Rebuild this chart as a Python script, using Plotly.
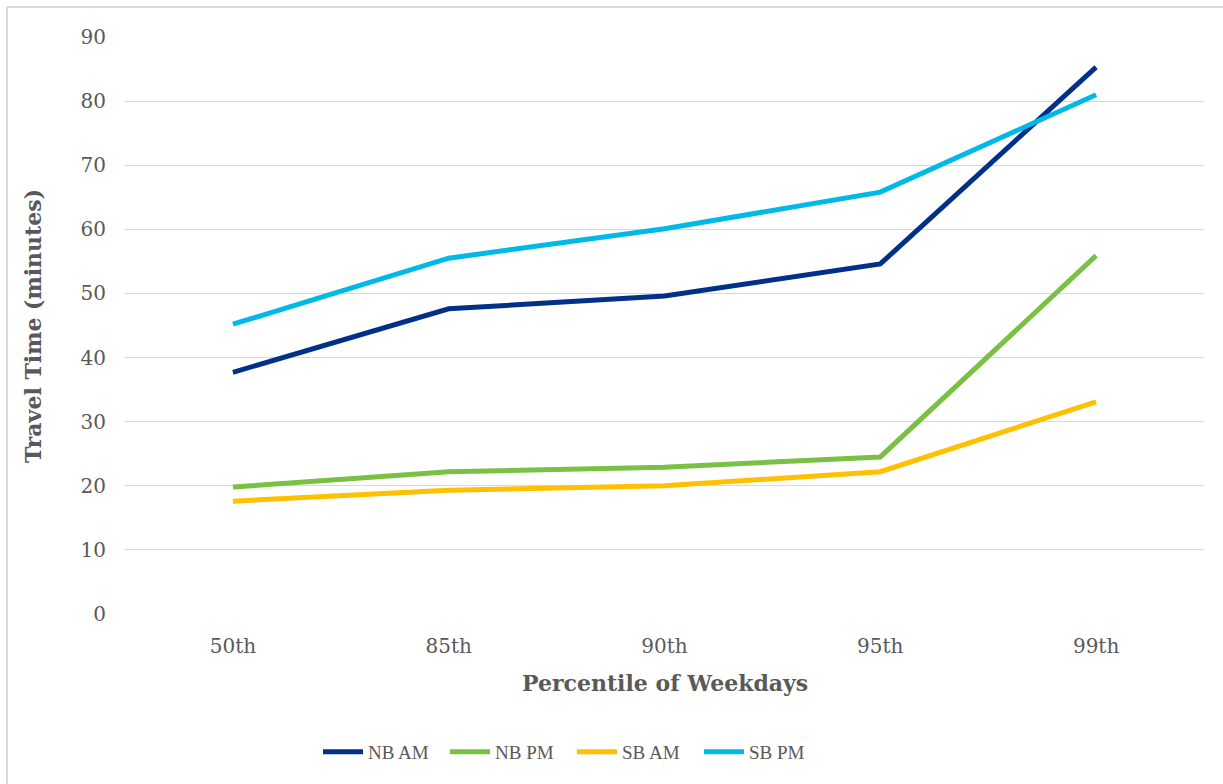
import plotly.graph_objects as go

# Travel time by weekday percentile, per direction and peak period
percentiles = ["50th", "85th", "90th", "95th", "99th"]
nb_am = [37.7, 47.6, 49.6, 54.6, 85.3]
nb_pm = [19.8, 22.2, 22.9, 24.5, 55.9]
sb_am = [17.6, 19.3, 20.0, 22.2, 33.1]
sb_pm = [45.2, 55.5, 60.1, 65.8, 81.0]

series = [
    ("NB AM", nb_am, "#003087"),
    ("NB PM", nb_pm, "#7AC143"),
    ("SB AM", sb_am, "#FFC000"),
    ("SB PM", sb_pm, "#00B9E8"),
]

W, H = 1223, 784
L, R, T, B = 125, 19, 37, 170
FONT = "DejaVu Serif"
LEG_FONT = "Liberation Serif"
GREY = "#595959"

fig = go.Figure()
for name, vals, color in series:
    fig.add_trace(go.Scatter(
        x=percentiles, y=vals, name=name, mode="lines",
        line=dict(color=color, width=5),
    ))

def px_x(p):
    return (p - L) / (W - L - R)

def px_y(p):
    return (H - B - p) / (H - T - B)

fig.update_layout(
    width=W, height=H,
    margin=dict(l=L, r=R, t=T, b=B),
    paper_bgcolor="white", plot_bgcolor="white",
    font=dict(family=FONT, color=GREY, size=20),
    showlegend=True,
    legend=dict(
        orientation="h", x=px_x(318), xanchor="left",
        y=px_y(752), yanchor="middle",
        font=dict(family=LEG_FONT, size=19, color=GREY),
        entrywidth=72, entrywidthmode="pixels",
        itemwidth=40, tracegroupgap=0,
    ),
    xaxis=dict(
        range=[-0.5, 4.5],
        showgrid=False, zeroline=False, showline=False,
        ticks="", ticklabelstandoff=18,
        tickfont=dict(family=FONT, size=20, color=GREY),
    ),
    yaxis=dict(
        range=[0, 90], dtick=10, showgrid=True, gridcolor="#D9D9D9",
        gridwidth=1.3, zeroline=False, showline=False, ticks="",
        ticklabelstandoff=18,
        tickfont=dict(family=FONT, size=20, color=GREY),
    ),
    annotations=[
        dict(text="<b>Percentile of Weekdays</b>", xref="paper", yref="paper",
             x=px_x(665), y=px_y(683), xanchor="center", yanchor="middle",
             showarrow=False, font=dict(family=FONT, size=22, color=GREY)),
        dict(text="<b>Travel Time (minutes)</b>", xref="paper", yref="paper",
             x=px_x(33), y=px_y(326), xanchor="center", yanchor="middle",
             textangle=-90, showarrow=False,
             font=dict(family=FONT, size=22, color=GREY)),
    ],
    shapes=[
        dict(type="line", xref="paper", yref="paper",
             x0=px_x(7), x1=px_x(1240), y0=px_y(7), y1=px_y(7),
             line=dict(color="#D9D9D9", width=2)),
        dict(type="line", xref="paper", yref="paper",
             x0=px_x(7), x1=px_x(7), y0=px_y(7), y1=px_y(800),
             line=dict(color="#D9D9D9", width=2)),
    ],
)

fig.write_html("out.html")
